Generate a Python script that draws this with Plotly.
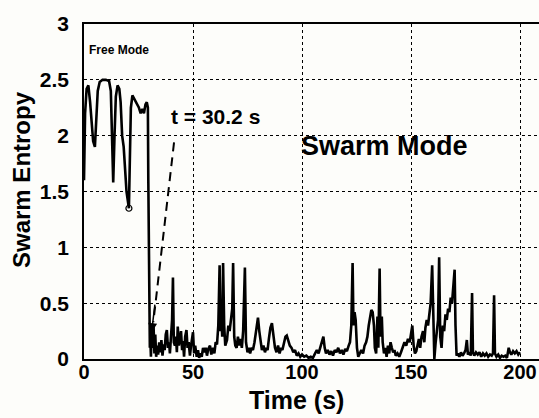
import plotly.graph_objects as go

# Time (s) and entropy values
time_s = [
    0, 0.5, 1.2, 2.0, 2.8, 3.5, 4.2, 5.0, 5.6, 6.3, 7.2, 8.5, 10, 11.5, 12.3, 12.8, 13.4, 14.0, 14.6,
    15.4, 16.2, 16.8, 17.5, 18.2, 18.8, 19.5, 20.6, 21.0, 21.5, 22.2, 23.0, 23.8, 24.5, 25.2, 26.0,
    26.8, 27.5, 28.2, 28.8, 29.3, 29.5, 29.7, 30.0, 30.1, 30.2,
    30.3, 30.7, 31.1, 31.5, 31.9, 32.3, 32.7, 33.1, 33.6, 34.0, 34.5, 35.0, 35.5, 36.0, 36.5, 37.0,
    37.5, 38.0, 38.5, 39.0, 39.4, 39.9, 40.4, 40.8, 41.2, 41.7, 42.2, 42.6, 43.0, 43.5, 44.0, 44.5,
    45.0, 45.4, 45.9, 46.4, 47.0, 47.5, 48.0, 48.6, 49.1, 49.6, 50.0, 50.5, 51.0, 51.7, 52.3, 52.8,
    53.3, 54.0, 54.6, 55.2, 55.8, 56.4, 57.0, 57.8, 58.4, 59.2, 59.8, 60.4, 61.0, 61.6,
    62.2, 62.6, 63.0, 63.4, 63.8, 64.3, 64.8, 65.6, 66.2, 66.8, 67.5, 68.0, 68.4, 68.9, 69.4, 70.0,
    70.6, 71.2, 71.8, 72.4, 73.0, 73.8, 74.3, 75.0, 75.6, 76.2, 76.8, 77.5, 78.2, 79.0, 79.8, 80.4,
    81.0, 81.6, 82.3, 83.0, 83.6, 84.2, 84.8, 85.5, 86.2, 86.8, 87.6, 88.3, 89.0, 89.7, 90.4, 91.0,
    91.7, 92.4, 93.0, 93.7, 94.4, 95.2, 96.0, 96.8, 97.6, 98.4, 99.2, 100.0, 101.0, 102.0, 103.0,
    104.0, 105.0, 106.0, 106.8, 107.6, 108.4, 109.2, 109.8, 110.4, 111.0,
    111.8, 112.6, 113.4, 114.2, 115.0, 115.8, 116.6, 117.4, 118.2, 119.0, 119.8, 120.6, 121.4, 122.0,
    122.6, 123.2, 123.6, 124.1, 124.6, 125.2, 125.8, 126.5, 127.2, 128.0, 128.7, 129.4, 130.0, 130.6,
    131.2, 131.8, 132.4, 133.0, 133.4, 134.0, 134.6, 135.0, 135.6, 136.0, 136.6, 137.0, 137.6, 138.2,
    138.8, 139.4, 140.0, 140.6, 141.2, 141.8, 142.4, 143.0, 143.8, 144.6, 145.4, 146.2, 147.0, 147.8,
    148.6, 149.4, 150.0, 150.6, 151.2, 151.8, 152.4, 153.0, 153.6, 154.2, 154.8, 155.5, 156.1, 156.6,
    157.2, 157.8, 158.4, 159.0, 159.7, 160.2, 160.7, 161.3, 161.9, 162.4, 162.9, 163.4, 164.0, 164.6,
    165.2, 165.8, 166.4, 167.0, 167.6, 168.2, 168.8, 169.4, 170.0, 170.4, 170.9, 171.5, 172.2, 172.9,
    173.6, 174.3, 175.0, 175.6, 176.1, 176.8, 177.4, 178.0, 178.4, 179.0, 179.8, 180.6, 181.4, 182.2,
    183.0, 183.8, 184.6, 185.4, 186.2, 187.0, 187.6, 188.1, 188.5, 189.2, 190.0, 190.8, 191.6, 192.4,
    193.2, 194.0, 194.8, 195.4, 196.0, 196.8, 197.6, 198.4, 199.2, 200.0,
]
entropy = [
    1.6, 2.2, 2.42, 2.45, 2.3, 2.1, 1.95, 1.9, 2.1, 2.4, 2.48, 2.5, 2.5, 2.49, 2.4, 2.1, 1.58, 2.0, 2.35,
    2.45, 2.42, 2.3, 2.0, 1.9, 1.7, 1.5, 1.35, 1.9, 2.25, 2.36, 2.33, 2.3, 2.28, 2.25, 2.2,
    2.24, 2.2, 2.28, 2.3, 2.25, 1.6, 0.9, 0.77, 0.5, 0.1,
    0.25, 0.02, 0.28, 0.1, 0.3, 0.05, 0.22, 0.02, 0.12, 0.04, 0.15, 0.06, 0.17, 0.03, 0.13, 0.08,
    0.22, 0.26, 0.1, 0.15, 0.05, 0.2, 0.35, 0.73, 0.15, 0.12, 0.2, 0.06, 0.29, 0.12, 0.18, 0.25,
    0.08, 0.16, 0.02, 0.2, 0.26, 0.1, 0.15, 0.03, 0.12, 0.18, 0.24, 0.05, 0.12, 0.02, 0.08, 0.01,
    0.05, 0.02, 0.1, 0.06, 0.1, 0.03, 0.09, 0.12, 0.04, 0.1, 0.05, 0.15, 0.13, 0.3,
    0.84, 0.25, 0.4, 0.2, 0.86, 0.3, 0.12, 0.17, 0.3, 0.25, 0.35, 0.45, 0.86, 0.2, 0.12, 0.1,
    0.2, 0.12, 0.18, 0.1, 0.25, 0.82, 0.15, 0.06, 0.1, 0.05, 0.1, 0.08, 0.15, 0.25, 0.37, 0.25,
    0.15, 0.08, 0.12, 0.06, 0.1, 0.08, 0.18, 0.28, 0.32, 0.2, 0.1, 0.06, 0.12, 0.05, 0.1, 0.08,
    0.15, 0.2, 0.21, 0.17, 0.12, 0.1, 0.06, 0.08, 0.03, 0.05, 0.02, 0.04, 0.02, 0.03, 0.01,
    0.02, 0.01, 0.05, 0.08, 0.05, 0.1, 0.14, 0.2, 0.1, 0.05,
    0.08, 0.04, 0.07, 0.03, 0.08, 0.06, 0.1, 0.05, 0.08, 0.04, 0.09, 0.07, 0.12, 0.15,
    0.3, 0.86, 0.3, 0.42, 0.35, 0.1, 0.02, 0.05, 0.08, 0.05, 0.12, 0.15, 0.2, 0.3,
    0.38, 0.44, 0.42, 0.3, 0.1, 0.05, 0.38, 0.1, 0.81, 0.2, 0.38, 0.15, 0.05, 0.1,
    0.02, 0.12, 0.05, 0.15, 0.1, 0.06, 0.08, 0.03, 0.05, 0.02, 0.06, 0.1, 0.15, 0.12,
    0.18, 0.15, 0.22, 0.3, 0.12, 0.05, 0.07, 0.12, 0.18, 0.1, 0.2, 0.25, 0.15, 0.28,
    0.35, 0.3, 0.4, 0.5, 0.84, 0.3, 0.0, 0.15, 0.3, 0.35, 0.91, 0.2, 0.1, 0.3,
    0.25, 0.4, 0.35, 0.45, 0.42, 0.55, 0.5, 0.65, 0.8, 0.3, 0.03, 0.05, 0.02, 0.06,
    0.03, 0.05, 0.08, 0.17, 0.04, 0.06, 0.03, 0.59, 0.06, 0.03, 0.06, 0.04, 0.06, 0.02,
    0.05, 0.03, 0.05, 0.02, 0.04, 0.03, 0.05, 0.57, 0.05, 0.02, 0.04, 0.01, 0.03, 0.02,
    0.03, 0.01, 0.1, 0.06, 0.04, 0.07, 0.05, 0.07, 0.04, 0.06,
]

marker_t = [20.6]
marker_y = [1.35]

arrow_t = [41.3, 31.8]
arrow_y = [1.94, 0.33]

x_ticks = [0, 50, 100, 150, 200]
y_ticks = [0, 0.5, 1, 1.5, 2, 2.5, 3]
y_tick_text = ["0", "0.5", "1", "1.5", "2", "2.5", "3"]

FONT = "Liberation Sans, Arial, sans-serif"
BG = "#fdfdfa"

W, H = 539, 418
ML, MR, MT, MB = 84, 0, 24, 59
PW, PH = W - ML - MR, H - MT - MB


def px_to_paper(px, py):
    return (px - ML) / PW, (H - MB - py) / PH


fig = go.Figure()
fig.add_trace(go.Scatter(x=time_s, y=entropy, mode="lines",
                         line=dict(color="black", width=2.6), showlegend=False))
fig.add_trace(go.Scatter(x=marker_t, y=marker_y, mode="markers",
                         marker=dict(symbol="circle-open", size=6, color="black",
                                     line=dict(width=1.2)), showlegend=False))
fig.add_trace(go.Scatter(x=arrow_t, y=arrow_y, mode="lines",
                         line=dict(color="black", width=2, dash="9px,6px"), showlegend=False))

fig.add_annotation(x=31.0, y=0.24, ax=32.6, ay=0.5, xref="x", yref="y", axref="x", ayref="y",
                   showarrow=True, arrowhead=2, arrowsize=1.2, arrowwidth=1.5, arrowcolor="black", text="")
fig.add_annotation(x=60.5, y=2.17, xref="x", yref="y", text="<b>t = 30.2 s</b>", showarrow=False,
                   xanchor="center", yanchor="middle",
                   font=dict(family=FONT, size=21, color="black"))
fig.add_annotation(x=138, y=1.91, xref="x", yref="y", text="<b>Swarm Mode</b>", showarrow=False,
                   xanchor="center", yanchor="middle",
                   font=dict(family=FONT, size=27, color="black"))
fig.add_annotation(x=16.2, y=2.77, xref="x", yref="y", text="<b>Free Mode</b>", showarrow=False,
                   xanchor="center", yanchor="middle",
                   font=dict(family=FONT, size=12, color="black"))

yx, yy = px_to_paper(21, 180)
fig.add_annotation(x=yx, y=yy, xref="paper", yref="paper", text="<b>Swarm Entropy</b>", showarrow=False,
                   xanchor="center", yanchor="middle", textangle=-90,
                   font=dict(family=FONT, size=24, color="black"))
tx, ty = px_to_paper(296, 400)
fig.add_annotation(x=tx, y=ty, xref="paper", yref="paper", text="<b>Time (s)</b>", showarrow=False,
                   xanchor="center", yanchor="middle",
                   font=dict(family=FONT, size=25, color="black"))

fig.update_layout(
    width=W, height=H, autosize=False,
    margin=dict(l=ML, r=MR, t=MT, b=MB, autoexpand=False),
    paper_bgcolor=BG, plot_bgcolor=BG,
    font=dict(family=FONT, color="black"),
    xaxis=dict(range=[0, 208.7], tickvals=x_ticks, ticktext=["<b>%d</b>" % v for v in x_ticks],
               tickfont=dict(size=20), showgrid=True, gridcolor="black", gridwidth=1, griddash="dot",
               zeroline=False, showline=True, linecolor="black", linewidth=1.5, mirror=True,
               ticks="", ticklabelstandoff=-6, automargin=False),
    yaxis=dict(range=[0, 3], tickvals=y_ticks, ticktext=["<b>%s</b>" % s for s in y_tick_text],
               tickfont=dict(size=21), showgrid=True, gridcolor="black", gridwidth=1, griddash="dot",
               zeroline=False, showline=True, linecolor="black", linewidth=1.5, mirror=False,
               ticks="", ticklabelstandoff=9, automargin=False),
)

fig.write_html("out.html", config={"displayModeBar": False},
               post_script="document.body.style.margin='0';document.body.style.background='%s';" % BG)
